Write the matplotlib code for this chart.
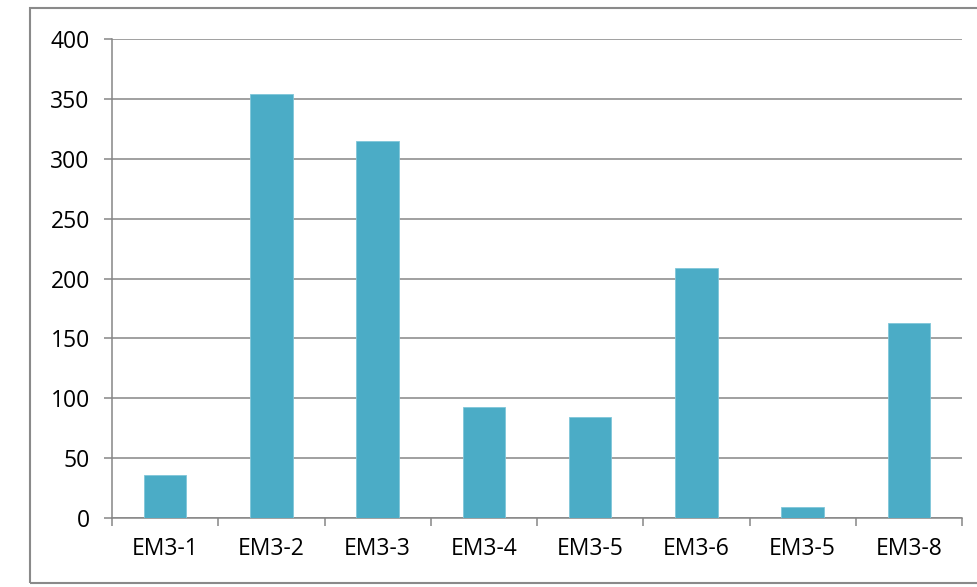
import matplotlib
matplotlib.use('Agg')
import matplotlib.pyplot as plt
from matplotlib.patches import Rectangle
import numpy as np

categories = ['EM3-1', 'EM3-2', 'EM3-3', 'EM3-4', 'EM3-5', 'EM3-6', 'EM3-5', 'EM3-8']
values = [36, 354, 315, 93, 84, 209, 9, 163]

plt.rcParams['font.family'] = ['Open Sans', 'DejaVu Sans']

W, H = 977, 587
fig = plt.figure(figsize=(W / 100, H / 100), dpi=100)
ax = fig.add_axes([112 / W, 1 - 518 / H, (962 - 112) / W, (518 - 39) / H])

grid_col = '#868686'
x = np.arange(len(categories))
ax.bar(x, values, width=0.4, color='#4BACC6', edgecolor='#7FC6D9', linewidth=0.6, zorder=3)

ax.set_xlim(-0.5, len(categories) - 0.5)
ax.set_ylim(0, 400)
ax.set_yticks(range(0, 401, 50))
ax.yaxis.grid(True, color=grid_col, linewidth=1.1, zorder=0)
ax.set_axisbelow(True)

ax.set_xticks(x)
ax.set_xticklabels(categories)
ax.set_xticks(np.arange(-0.5, len(categories), 1.0), minor=True)
ax.tick_params(axis='x', which='major', length=0, pad=14, labelsize=16.5)
ax.tick_params(axis='x', which='minor', length=6, width=1.1, color=grid_col, direction='out')
ax.tick_params(axis='y', length=6, width=1.1, color=grid_col, pad=10, labelsize=16.5)

for s in ['top', 'right']:
    ax.spines[s].set_visible(False)
for s in ['left', 'bottom']:
    ax.spines[s].set_color(grid_col)
    ax.spines[s].set_linewidth(1.1)

# outer chart border
fig.patches.append(Rectangle((30 / W, 1 - 583 / H), 1.0, (583 - 8) / H,
                             transform=fig.transFigure, fill=False,
                             edgecolor='#8a8a8a', linewidth=1.5))

fig.savefig('out.png', dpi=100)
